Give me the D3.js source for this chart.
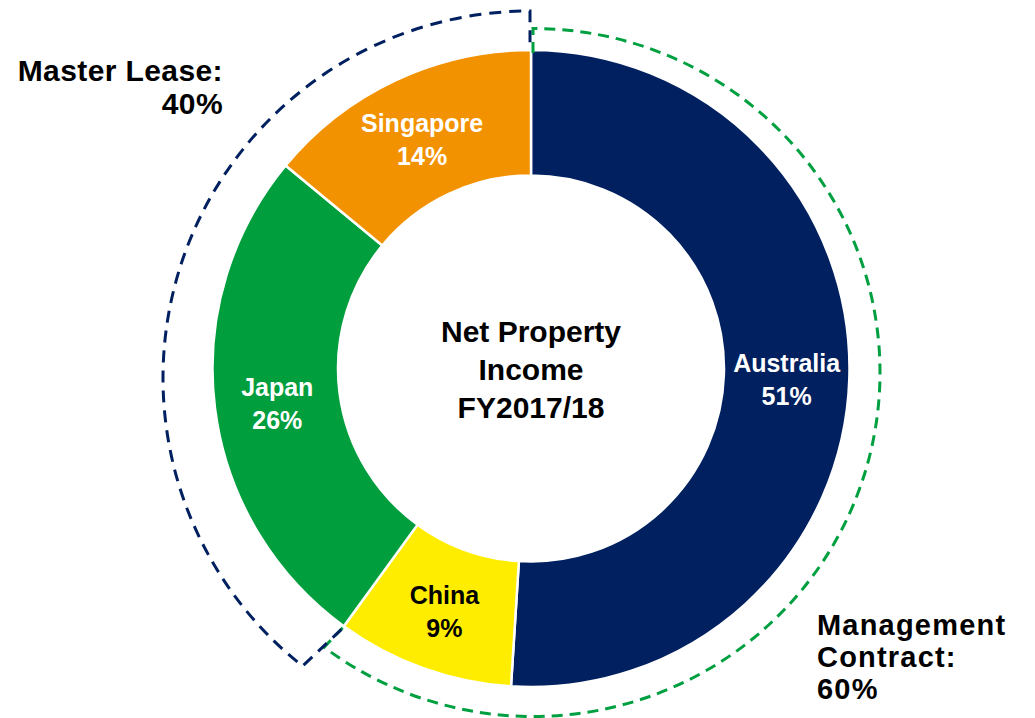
<!DOCTYPE html>
<html><head><meta charset="utf-8">
<script src="https://cdn.jsdelivr.net/npm/d3@7"></script>
<style>
html,body{margin:0;padding:0;background:#fff;}
svg{display:block;}
text{font-family:"Liberation Sans",Arial,sans-serif;font-weight:bold;}
</style></head>
<body>
<svg id="chart" width="1035" height="718"></svg>
<script>
const categories = ["Australia","China","Japan","Singapore"];
const values = [51, 9, 26, 14];
const valueLabels = ["51%","9%","26%","14%"];
const colors = ["#002060","#FFED00","#009E3D","#F39200"];
const labelColors = ["#ffffff","#000000","#ffffff","#ffffff"];
const centerLines = ["Net Property","Income","FY2017/18"];
const groupNames = [["Management","Contract:"],["Master Lease:"]];
const groupValues = [60, 40];
const groupLabels = ["60%","40%"];

const svg = d3.select("#chart");
const cx = 531, cy = 368.5, rOuter = 318.5, rInner = 193;

const pie = d3.pie().sort(null).value(d => d).startAngle(0).endAngle(2*Math.PI);
const arcs = pie(values);
const arc = d3.arc().innerRadius(rInner).outerRadius(rOuter);

const g = svg.append("g").attr("transform", `translate(${cx},${cy})`);
g.selectAll("path.slice").data(arcs).enter().append("path")
  .attr("class","slice")
  .attr("d", arc)
  .attr("fill", (d,i) => colors[i])
  .attr("stroke","#fff").attr("stroke-width",2.5);

// slice labels
arcs.forEach((d,i) => {
  const [x,y] = arc.centroid(d);
  const t = g.append("text").attr("text-anchor","middle").attr("fill",labelColors[i]).style("font-size","25px");
  t.append("tspan").attr("x",x).attr("y",y-5).text(categories[i]);
  t.append("tspan").attr("x",x).attr("y",y+28).text(valueLabels[i]);
});

// center text
const ct = g.append("text").attr("text-anchor","middle").attr("fill","#000").style("font-size","30px");
centerLines.forEach((s,i) => ct.append("tspan").attr("x",0).attr("y",-26.5 + i*38).text(s));

// bracket arcs, split angle from group share
const total = d3.sum(groupValues);
const split = 2*Math.PI*groupValues[0]/total;
const deg = Math.PI/180;
function pt(c, rx, ry, a){ return [c[0] + rx*Math.sin(a), c[1] - ry*Math.cos(a)]; }

// Management contract (green): from top to split
{
  const c = [533, 372.5], rx = 347, ry = 344;
  const s0 = [c[0], cy - rOuter + 3];
  const a0 = pt(c, rx, ry, 0);
  const a1 = pt(c, rx, ry, split + 1*deg);
  const e = pt([cx,cy], rOuter+2, rOuter+2, split);
  const large = split > Math.PI ? 1 : 0;
  svg.append("path")
    .attr("d", `M${s0}L${a0}A${rx},${ry} 0 ${large} 1 ${a1}L${e}`)
    .attr("fill","none").attr("stroke","#00A040").attr("stroke-width",3)
    .attr("stroke-dasharray","11,7");
}
// Master lease (navy): from split to top
{
  const c = [530, 378], r = 367;
  const s0 = pt([cx,cy], rOuter+4, rOuter+4, split);
  const a0 = pt(c, r, r, split + 2.3*deg);
  const a1 = pt(c, r, r, 2*Math.PI);
  const e = [c[0], cy - rOuter];
  const large = (2*Math.PI - split) > Math.PI ? 1 : 0;
  svg.append("path")
    .attr("d", `M${s0}L${a0}A${r},${r} 0 ${large} 1 ${a1}L${e}`)
    .attr("fill","none").attr("stroke","#002060").attr("stroke-width",3)
    .attr("stroke-dasharray","12,8");
}

// group labels
const ml = svg.append("text").attr("text-anchor","end").attr("fill","#000").style("font-size","30px").style("letter-spacing","0.4px");
groupNames[1].forEach((s,i) => ml.append("tspan").attr("x",223).attr("y",81 + i*33).text(s));
ml.append("tspan").attr("x",223).attr("y",81 + groupNames[1].length*33).text(groupLabels[1]);

const mc = svg.append("text").attr("text-anchor","start").attr("fill","#000").style("font-size","29px").style("letter-spacing","1.2px");
groupNames[0].forEach((s,i) => mc.append("tspan").attr("x",817).attr("y",635 + i*32).text(s));
mc.append("tspan").attr("x",817).attr("y",635 + groupNames[0].length*32).text(groupLabels[0]);
</script>
</body></html>
